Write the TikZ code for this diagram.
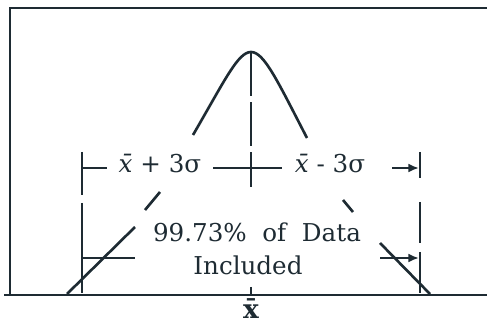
\documentclass[tikz,border=0pt]{standalone}
\usepackage{fontspec}
\setmainfont{DejaVu Serif}
\usetikzlibrary{arrows.meta,positioning,calc}

\definecolor{ink}{HTML}{1E2B33}

\begin{document}
\begin{tikzpicture}[
    x=0.02cm,
    y=-0.02cm,
    every node/.style={
        font=\fontsize{14}{16}\selectfont,
        text=ink,
        inner sep=1pt,
        anchor=base
    },
    frame/.style={
        draw=ink,
        line width=1.6pt
    },
    bell/.style={
        draw=ink,
        line width=1.5pt
    },
    dimline/.style={
        draw=ink,
        line width=1.4pt
    },
    centreline/.style={
        draw=ink,
        line width=1.4pt,
        dash pattern=on 25pt off 3.5pt
    },
    tip/.style={
        -{Latex[length=6pt,width=5pt]}
    }
]

\useasboundingbox (0,0) rectangle (487,324);

% ============================================================
% Frame and axis
% ============================================================

\coordinate (frameTL) at (10,8);
\coordinate (frameTR) at (487,8);
\coordinate (axisL) at (4,295);
\coordinate (axisR) at (487,295);

\draw[frame] (frameTR) -- (frameTL) -- (frameTL |- axisL);
\draw[frame] (axisL) -- (axisR);

% ============================================================
% Bell curve
% ============================================================

\coordinate (peak) at (251,52);

\draw[bell]
(193,135) .. controls (225,80) and (238,52) .. (peak)
.. controls (264,52) and (277,80) .. (307,138);

\draw[bell] (145,210) -- (160,192);
\draw[bell] (135,227) -- (67,294);

\draw[bell] (343,200) -- (353,212);
\draw[bell] (380,243) -- (430,294);

% Centre line and mean tick
\coordinate (centreBottom) at (251,187);
\draw[centreline] (peak) -- (centreBottom);

\coordinate (meanTick) at (251,287);
\draw[dimline] (meanTick) -- (meanTick |- axisL);

% ============================================================
% Side limits
% ============================================================

\coordinate (leftTop) at (82,152);
\coordinate (rightTop) at (420,152);

\draw[dimline] (leftTop) -- (82,195);
\draw[dimline] (82,203) -- (82,293);

\draw[dimline] (rightTop) -- (420,178);
\draw[dimline] (420,202) -- (420,243);
\draw[dimline] (420,252) -- (420,293);

% Upper dimension line
\draw[dimline] (82,168) -- (107,168);
\draw[dimline] (213,168) -- (282,168);
\draw[dimline, tip] (392,168) -- (419,168);

% Lower dimension line
\draw[dimline] (82,258) -- (135,258);
\draw[dimline, tip] (380,258) -- (419,258);

% ============================================================
% Labels
% ============================================================

\node (plusLabel) at (160,173) {\textit{\=x} + 3σ};
\node (minusLabel) at (330,173) {\textit{\=x} - 3σ};

\node (dataLabel) at (257,242) {99.73\%\ \ of\ \ Data};
\node (inclLabel) at (248,275) {Included};

\node[font=\fontsize{15}{17}\selectfont\bfseries] (meanLabel)
    at (251,318) {\=x};

\end{tikzpicture}
\end{document}
